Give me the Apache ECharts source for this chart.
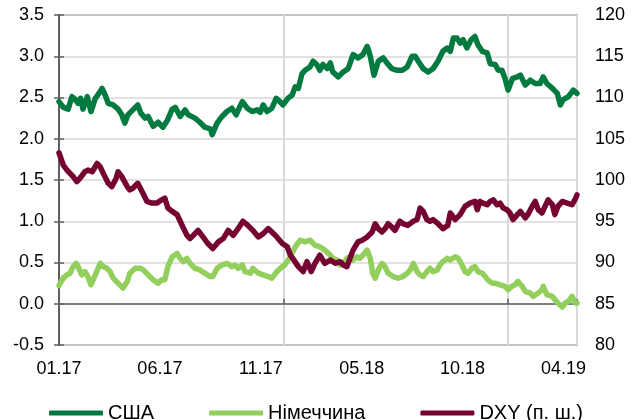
<!DOCTYPE html>
<html><head><meta charset="utf-8">
<script src="https://cdn.jsdelivr.net/npm/echarts@6/dist/echarts.min.js"></script>
<style>html,body{margin:0;padding:0;background:#fff}#c{width:631px;height:420px}</style>
</head><body><div id="c"></div>
<script>
// x values: days since 01.01.2017
const xTickLabels = ['01.17','06.17','11.17','05.18','10.18','04.19'];
const seriesNames = ['США','Німеччина','DXY (п. ш.)'];
const usa = [[0,2.45],[2,2.43],[7,2.38],[15,2.36],[21,2.51],[26,2.48],[31,2.43],[35,2.49],[39,2.36],[46,2.51],[52,2.33],[59,2.49],[63,2.53],[70,2.61],[75,2.53],[80,2.43],[88,2.41],[96,2.36],[102,2.29],[107,2.19],[112,2.29],[120,2.35],[128,2.41],[133,2.31],[140,2.25],[145,2.27],[153,2.15],[161,2.20],[169,2.14],[176,2.22],[184,2.36],[189,2.38],[197,2.27],[205,2.35],[210,2.29],[213,2.27],[221,2.25],[229,2.20],[237,2.14],[246,2.12],[249,2.05],[257,2.19],[265,2.27],[273,2.33],[281,2.37],[288,2.29],[294,2.39],[298,2.45],[306,2.37],[314,2.33],[322,2.35],[327,2.32],[332,2.41],[338,2.33],[346,2.37],[353,2.49],[359,2.45],[364,2.41],[372,2.49],[379,2.53],[384,2.63],[389,2.61],[395,2.79],[400,2.83],[408,2.87],[413,2.94],[419,2.90],[424,2.83],[429,2.90],[436,2.85],[441,2.92],[445,2.81],[454,2.75],[462,2.81],[470,2.85],[478,3.02],[486,2.98],[494,3.02],[501,3.12],[506,3.00],[512,2.77],[519,2.94],[527,2.98],[533,2.92],[541,2.85],[550,2.83],[558,2.83],[566,2.87],[574,3.00],[579,3.00],[584,2.94],[592,2.85],[600,2.81],[608,2.85],[616,2.94],[624,3.06],[631,3.10],[636,3.06],[641,3.22],[647,3.22],[652,3.16],[657,3.20],[663,3.10],[670,3.20],[676,3.24],[681,3.14],[688,3.06],[696,3.04],[701,2.91],[709,2.90],[714,2.83],[720,2.83],[725,2.73],[730,2.59],[737,2.73],[745,2.75],[750,2.77],[758,2.65],[766,2.71],[774,2.67],[782,2.67],[787,2.75],[793,2.67],[802,2.61],[810,2.55],[815,2.41],[819,2.47],[828,2.51],[836,2.59],[842,2.55]];
const germany = [[0,0.22],[2,0.25],[7,0.31],[13,0.35],[18,0.37],[23,0.45],[28,0.49],[31,0.45],[37,0.35],[42,0.39],[47,0.33],[52,0.23],[59,0.35],[67,0.49],[72,0.45],[78,0.43],[83,0.39],[88,0.31],[96,0.25],[104,0.19],[111,0.27],[115,0.37],[124,0.43],[132,0.43],[137,0.41],[145,0.35],[153,0.29],[161,0.25],[167,0.29],[172,0.29],[177,0.45],[184,0.57],[192,0.61],[197,0.55],[202,0.51],[208,0.55],[213,0.49],[221,0.43],[229,0.41],[237,0.37],[246,0.33],[250,0.33],[257,0.43],[265,0.47],[273,0.49],[281,0.45],[286,0.47],[291,0.43],[298,0.47],[302,0.39],[311,0.37],[315,0.43],[324,0.37],[332,0.35],[340,0.33],[346,0.31],[354,0.39],[363,0.45],[367,0.47],[376,0.57],[384,0.69],[392,0.77],[400,0.75],[408,0.77],[416,0.71],[424,0.69],[432,0.65],[441,0.59],[445,0.55],[452,0.53],[457,0.47],[462,0.49],[468,0.55],[473,0.57],[478,0.53],[484,0.57],[489,0.55],[494,0.59],[501,0.65],[506,0.55],[510,0.37],[514,0.31],[519,0.41],[525,0.49],[530,0.45],[535,0.37],[543,0.33],[551,0.31],[559,0.33],[566,0.37],[571,0.41],[576,0.49],[582,0.39],[587,0.35],[592,0.33],[598,0.39],[603,0.43],[608,0.39],[615,0.41],[619,0.47],[624,0.51],[631,0.55],[636,0.53],[639,0.51],[644,0.57],[649,0.55],[655,0.47],[660,0.39],[665,0.37],[671,0.43],[676,0.45],[681,0.39],[688,0.37],[693,0.33],[697,0.29],[704,0.25],[709,0.25],[717,0.23],[725,0.21],[730,0.17],[736,0.21],[741,0.23],[746,0.27],[753,0.21],[758,0.15],[766,0.13],[771,0.09],[779,0.13],[785,0.17],[787,0.21],[793,0.11],[802,0.09],[806,0.05],[811,0.01],[818,-0.04],[823,0.01],[828,0.03],[834,0.09],[839,0.01],[842,0.01]];
const dxy = [[0,103.3],[2,103.2],[7,101.8],[13,101.2],[18,100.8],[23,100.4],[29,99.8],[34,100.2],[42,101.0],[47,101.2],[54,101.0],[62,102.0],[67,101.6],[72,100.8],[80,99.6],[86,99.2],[93,100.2],[96,101.0],[102,100.4],[111,99.2],[115,98.8],[120,99.0],[128,99.6],[135,98.6],[143,97.4],[151,97.2],[159,97.2],[167,97.6],[172,97.8],[177,96.6],[184,96.2],[192,95.8],[197,95.0],[202,94.2],[208,93.3],[213,92.9],[221,93.5],[226,93.9],[234,93.1],[242,92.3],[250,91.7],[259,92.5],[267,92.9],[275,93.9],[283,93.3],[291,94.1],[299,95.0],[307,94.5],[315,93.9],[324,93.1],[332,93.5],[340,94.1],[346,93.7],[354,93.1],[363,92.3],[371,91.9],[376,90.9],[380,90.5],[389,89.5],[397,88.9],[403,90.1],[410,88.9],[416,89.9],[424,90.9],[432,89.9],[441,90.3],[449,89.9],[457,90.1],[462,89.7],[468,89.5],[473,90.5],[478,91.5],[486,92.5],[493,92.7],[501,93.1],[509,93.7],[514,94.7],[519,94.1],[525,93.7],[530,94.1],[535,94.7],[541,94.3],[546,93.9],[554,95.0],[559,94.7],[567,94.5],[576,95.0],[582,95.2],[587,96.6],[592,96.2],[598,95.2],[603,95.0],[608,95.2],[616,94.7],[624,94.1],[632,94.5],[636,96.0],[644,95.2],[652,95.8],[660,96.8],[668,97.2],[676,97.4],[680,96.4],[684,97.4],[689,97.2],[696,97.0],[701,97.4],[706,97.6],[712,97.0],[717,97.2],[722,96.6],[728,96.4],[733,96.0],[738,95.2],[745,95.8],[750,96.2],[758,95.4],[762,95.8],[769,96.8],[774,97.4],[779,96.4],[785,96.0],[790,96.8],[795,97.6],[802,97.0],[806,95.8],[811,96.8],[818,97.4],[826,97.2],[834,97.0],[840,97.8],[842,98.2]];

const FONT = "'Liberation Sans', Arial, sans-serif";
const colors = ['#037A40', '#92CF5C', '#750433'];
const chart = echarts.init(document.getElementById('c'), null, {renderer: 'canvas'});
const TICK = 164;
chart.setOption({
  animation: false,
  textStyle: {fontFamily: FONT},
  grid: {left: 59, right: 54, top: 15, bottom: 75, show: true, borderColor: '#5f5f5f', borderWidth: 1.5, containLabel: false},
  legend: {
    left: 44, top: 398, itemGap: 55, itemWidth: 54, itemHeight: 5, icon: 'roundRect',
    textStyle: {fontFamily: FONT, fontSize: 20, color: '#000'},
    data: seriesNames
  },
  xAxis: [
    {type: 'value', min: 0, max: 842, interval: TICK, position: 'bottom',
     axisLine: {show: false}, axisTick: {show: false}, splitLine: {show: false},
     axisLabel: {fontFamily: FONT, fontSize: 18, color: '#000', margin: 15, showMaxLabel: false,
       formatter: v => (v % TICK === 0 ? xTickLabels[v / TICK] : '')}},
    {type: 'value', min: 0, max: 842, interval: 365, position: 'top',
     axisLine: {show: true, onZero: true, onZeroAxisIndex: 0, lineStyle: {color: '#5f5f5f', width: 1.5}},
     axisTick: {show: true, length: 5, lineStyle: {color: '#5f5f5f', width: 1.5}},
     axisLabel: {show: false},
     splitLine: {show: true, lineStyle: {color: '#d9d9d9', width: 2}}}
  ],
  yAxis: [
    {type: 'value', min: -0.5, max: 3.5, interval: 0.5, position: 'left',
     axisLine: {show: true, lineStyle: {color: '#5f5f5f', width: 2}},
     axisTick: {show: true, inside: true, length: 5, lineStyle: {color: '#5f5f5f', width: 1.5}},
     axisLabel: {fontFamily: FONT, fontSize: 18, color: '#000', margin: 15, formatter: v => v.toFixed(1)},
     splitLine: {show: true, lineStyle: {color: '#d9d9d9', width: 1.5}}},
    {type: 'value', min: 80, max: 120, interval: 5, position: 'right',
     axisLine: {show: true, lineStyle: {color: '#5f5f5f', width: 2}},
     axisTick: {show: true, inside: true, length: 5, lineStyle: {color: '#5f5f5f', width: 1.5}},
     axisLabel: {fontFamily: FONT, fontSize: 18, color: '#000', margin: 18},
     splitLine: {show: false}}
  ],
  series: [
    {name: seriesNames[0], type: 'line', data: usa, xAxisIndex: 0, yAxisIndex: 0, showSymbol: false,
     color: colors[0], lineStyle: {width: 5.5, color: colors[0], join: 'round', cap: 'round'}},
    {name: seriesNames[1], type: 'line', data: germany, xAxisIndex: 0, yAxisIndex: 0, showSymbol: false,
     color: colors[1], lineStyle: {width: 5.5, color: colors[1], join: 'round', cap: 'round'}},
    {name: seriesNames[2], type: 'line', data: dxy, xAxisIndex: 0, yAxisIndex: 1, showSymbol: false,
     color: colors[2], lineStyle: {width: 5.5, color: colors[2], join: 'round', cap: 'round'}}
  ]
});
</script></body></html>
